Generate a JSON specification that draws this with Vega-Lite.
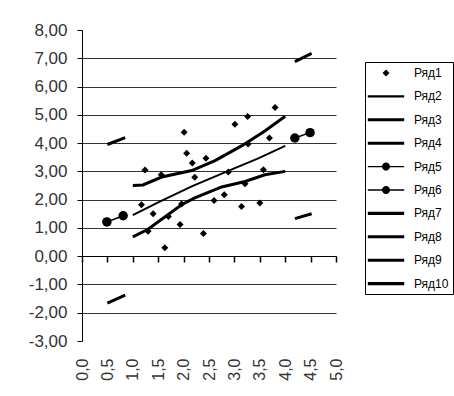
{
  "$schema": "https://vega.github.io/schema/vega-lite/v6.json",
  "width": 254,
  "height": 311,
  "autosize": {"type": "none"},
  "padding": {"left": 82, "top": 30, "right": 118, "bottom": 55},
  "background": "white",
  "config": {
    "view": {"stroke": null},
    "locale": {"number": {"decimal": ",", "thousands": " ", "grouping": [3], "currency": ["", ""], "minus": "-"}},
    "font": "Liberation Sans"
  },
  "data": {
    "values": [
      {"series": "Ряд1", "x": 1.17, "y": 1.82},
      {"series": "Ряд1", "x": 1.24, "y": 3.05},
      {"series": "Ряд1", "x": 1.3, "y": 0.88},
      {"series": "Ряд1", "x": 1.4, "y": 1.5},
      {"series": "Ряд1", "x": 1.56, "y": 2.88},
      {"series": "Ряд1", "x": 1.63, "y": 0.3},
      {"series": "Ряд1", "x": 1.7, "y": 1.4},
      {"series": "Ряд1", "x": 1.93, "y": 1.12},
      {"series": "Ряд1", "x": 1.96, "y": 1.85},
      {"series": "Ряд1", "x": 2.01, "y": 4.38},
      {"series": "Ряд1", "x": 2.06, "y": 3.64},
      {"series": "Ряд1", "x": 2.17, "y": 3.3},
      {"series": "Ряд1", "x": 2.22, "y": 2.79},
      {"series": "Ряд1", "x": 2.39, "y": 0.8},
      {"series": "Ряд1", "x": 2.44, "y": 3.46},
      {"series": "Ряд1", "x": 2.6, "y": 1.97},
      {"series": "Ряд1", "x": 2.8, "y": 2.17},
      {"series": "Ряд1", "x": 2.88, "y": 2.98},
      {"series": "Ряд1", "x": 3.01, "y": 4.67},
      {"series": "Ряд1", "x": 3.14, "y": 1.76},
      {"series": "Ряд1", "x": 3.21, "y": 2.56},
      {"series": "Ряд1", "x": 3.26, "y": 4.94},
      {"series": "Ряд1", "x": 3.27, "y": 3.97},
      {"series": "Ряд1", "x": 3.5, "y": 1.88},
      {"series": "Ряд1", "x": 3.57, "y": 3.06},
      {"series": "Ряд1", "x": 3.69, "y": 4.18},
      {"series": "Ряд1", "x": 3.8, "y": 5.26},
      {"series": "Ряд2", "x": 1.0, "y": 1.45},
      {"series": "Ряд2", "x": 1.5, "y": 1.9},
      {"series": "Ряд2", "x": 2.16, "y": 2.47},
      {"series": "Ряд2", "x": 2.88, "y": 3.02},
      {"series": "Ряд2", "x": 3.47, "y": 3.46},
      {"series": "Ряд2", "x": 4.0, "y": 3.9},
      {"series": "Ряд3", "x": 1.0, "y": 2.5},
      {"series": "Ряд3", "x": 1.2, "y": 2.52},
      {"series": "Ряд3", "x": 1.57, "y": 2.8},
      {"series": "Ряд3", "x": 2.16, "y": 3.03},
      {"series": "Ряд3", "x": 2.62, "y": 3.38},
      {"series": "Ряд3", "x": 3.14, "y": 3.9},
      {"series": "Ряд3", "x": 3.6, "y": 4.43},
      {"series": "Ряд3", "x": 4.0, "y": 4.95},
      {"series": "Ряд4", "x": 1.0, "y": 0.68},
      {"series": "Ряд4", "x": 1.3, "y": 0.95},
      {"series": "Ряд4", "x": 1.96, "y": 1.82},
      {"series": "Ряд4", "x": 2.22, "y": 2.06},
      {"series": "Ряд4", "x": 2.75, "y": 2.45},
      {"series": "Ряд4", "x": 3.21, "y": 2.64},
      {"series": "Ряд4", "x": 3.6, "y": 2.88},
      {"series": "Ряд4", "x": 4.0, "y": 3.0},
      {"series": "Ряд5", "x": 0.49, "y": 1.21},
      {"series": "Ряд5", "x": 0.81, "y": 1.43},
      {"series": "Ряд6", "x": 4.19, "y": 4.18},
      {"series": "Ряд6", "x": 4.49, "y": 4.37},
      {"series": "Ряд7", "x": 0.5, "y": 3.95},
      {"series": "Ряд7", "x": 0.85, "y": 4.19},
      {"series": "Ряд8", "x": 0.5, "y": -1.66},
      {"series": "Ряд8", "x": 0.85, "y": -1.38},
      {"series": "Ряд9", "x": 4.19, "y": 6.88},
      {"series": "Ряд9", "x": 4.52, "y": 7.17},
      {"series": "Ряд10", "x": 4.19, "y": 1.33},
      {"series": "Ряд10", "x": 4.52, "y": 1.5}
    ]
  },
  "encoding": {
    "x": {"field": "x", "type": "quantitative", "scale": {"domain": [0, 5], "nice": false, "zero": false},
      "axis": {"orient": "bottom", "offset": -85, "values": [0, 0.5, 1, 1.5, 2, 2.5, 3, 3.5, 4, 4.5, 5], "format": ".1f", "labelAngle": -90, "domain": true, "domainColor": "black", "domainWidth": 1, "ticks": true, "tickSize": 6, "tickWidth": 1.5, "tickColor": "black", "labelPadding": 96, "grid": false, "title": null, "labelFontSize": 16, "labelColor": "#333", "labelOverlap": false, "labelFont": "Liberation Sans"}},
    "y": {"field": "y", "type": "quantitative", "scale": {"domain": [-3, 8], "nice": false, "zero": false},
      "axis": {"values": [-3, -2, -1, 0, 1, 2, 3, 4, 5, 6, 7, 8], "format": ".2f", "title": null, "grid": true, "gridColor": "#333",
        "gridOpacity": {"condition": {"test": "datum.value == 8 || datum.value == -3", "value": 0}, "value": 1},
        "domainColor": "black", "tickColor": "black", "tickSize": 5, "labelPadding": 10, "labelFontSize": 17, "labelFont": "Liberation Sans", "labelColor": "#333", "labelOverlap": false}}
  },
  "layer": [
    {
      "transform": [{"filter": "datum.series === 'Ряд3' || datum.series === 'Ряд4' || datum.series === 'Ряд7' || datum.series === 'Ряд8' || datum.series === 'Ряд9' || datum.series === 'Ряд10'"}],
      "mark": {"type": "line", "color": "black", "strokeWidth": 3},
      "encoding": {"detail": {"field": "series"}}
    },
    {
      "transform": [{"filter": "datum.series === 'Ряд2'"}],
      "mark": {"type": "line", "color": "black", "strokeWidth": 2},
      "encoding": {}
    },
    {
      "transform": [{"filter": "datum.series === 'Ряд5' || datum.series === 'Ряд6'"}],
      "mark": {"type": "line", "color": "black", "strokeWidth": 1.5},
      "encoding": {"detail": {"field": "series"}}
    },
    {
      "transform": [{"filter": "datum.series === 'Ряд5' || datum.series === 'Ряд6'"}],
      "mark": {"type": "point", "filled": true, "color": "black", "opacity": 1, "shape": "circle", "size": 90},
      "encoding": {}
    },
    {
      "transform": [{"filter": "datum.series === 'Ряд1'"}],
      "mark": {"type": "point", "filled": true, "color": "black", "opacity": 1, "size": 196},
      "encoding": {
        "shape": {
          "field": "series", "type": "nominal",
          "scale": {
            "domain": ["Ряд1", "Ряд2", "Ряд3", "Ряд4", "Ряд5", "Ряд6", "Ряд7", "Ряд8", "Ряд9", "Ряд10"],
            "range": [
              "M0,-0.5L0.5,0L0,0.5L-0.5,0Z",
              "M-2.6,-0.15L2.6,-0.15L2.6,0.15L-2.6,0.15Z",
              "M-2.6,-0.22L2.6,-0.22L2.6,0.22L-2.6,0.22Z",
              "M-2.6,-0.22L2.6,-0.22L2.6,0.22L-2.6,0.22Z",
              "M-2.6,-0.1L2.6,-0.1L2.6,0.1L-2.6,0.1ZM-0.58,0A0.58,0.58,0,1,1,0.58,0A0.58,0.58,0,1,1,-0.58,0Z",
              "M-2.6,-0.1L2.6,-0.1L2.6,0.1L-2.6,0.1ZM-0.58,0A0.58,0.58,0,1,1,0.58,0A0.58,0.58,0,1,1,-0.58,0Z",
              "M-2.6,-0.22L2.6,-0.22L2.6,0.22L-2.6,0.22Z",
              "M-2.6,-0.22L2.6,-0.22L2.6,0.22L-2.6,0.22Z",
              "M-2.6,-0.22L2.6,-0.22L2.6,0.22L-2.6,0.22Z",
              "M-2.6,-0.22L2.6,-0.22L2.6,0.22L-2.6,0.22Z"
            ]
          },
          "legend": {
            "title": null, "orient": "none", "legendX": 283, "legendY": 32,
            "strokeColor": "black", "fillColor": "white", "padding": 4,
            "symbolSize": 196, "labelOffset": 21, "symbolOffset": 10, "rowPadding": 10.4,
            "symbolFillColor": "black", "symbolStrokeWidth": 0,
            "labelFontSize": 12, "labelFont": "Liberation Sans", "labelColor": "black",
            "encode": {"symbols": {"update": {
              "fill": {"value": "black"},
              "size": {"value": 196},
              "opacity": {"value": 1}
            }}}
          }
        }
      }
    }
  ]
}
